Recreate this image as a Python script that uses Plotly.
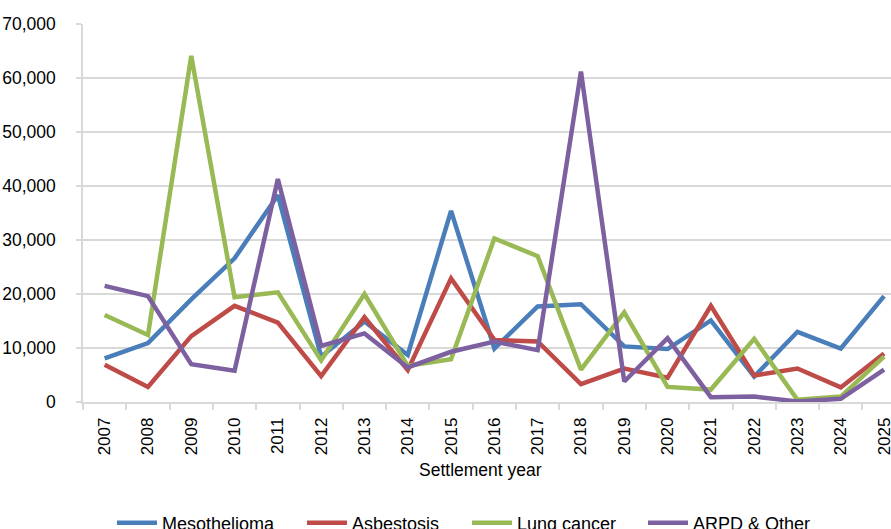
import plotly.graph_objects as go

years = [str(y) for y in range(2007, 2026)]
mesothelioma = [8100, 10900, 19000, 26600, 38300, 8400, 14900, 8700, 35400, 9900,
                17700, 18100, 10300, 9800, 15100, 4700, 13000, 9900, 19600]
asbestosis = [6900, 2800, 12200, 17800, 14700, 4800, 15700, 5900, 22900, 11500,
              11200, 3300, 6200, 4500, 17800, 4900, 6200, 2700, 9000]
lung_cancer = [16100, 12400, 64100, 19400, 20300, 7700, 20000, 6700, 7900, 30300,
               27000, 6000, 16600, 2800, 2300, 11700, 400, 1000, 8400]
arpd_other = [21500, 19600, 7000, 5800, 41300, 10400, 12700, 6400, 9300, 11200,
              9600, 61200, 3800, 11800, 900, 1000, 100, 600, 6000]

series = [
    ("Mesothelioma", mesothelioma, "#4A7EBB"),
    ("Asbestosis", asbestosis, "#BE4B48"),
    ("Lung cancer", lung_cancer, "#98B954"),
    ("ARPD & Other", arpd_other, "#7D60A0"),
]

# layout geometry (pixels); figure taller than the window so the legend,
# which is cut off at the bottom in the reference, does not push margins
W, H = 891, 560
L, T, PW, PH = 83, 24, 808, 378
R, B = W - L - PW, H - T - PH
legend_line_px = [119, 309, 474, 650]
legend_names = ["legend", "legend2", "legend3", "legend4"]

fig = go.Figure()
for (name, vals, color), lg in zip(series, legend_names):
    fig.add_trace(go.Scatter(x=years, y=vals, name=name, mode="lines",
                             line=dict(color=color, width=4.5), legend=lg))

font_family = "Liberation Sans, Arial, sans-serif"
legend_y = -(523 - (T + PH)) / PH
legend_kw = {}
for lg, px in zip(legend_names, legend_line_px):
    legend_kw[lg] = dict(orientation="h", x=(px - 7 - L) / PW, xanchor="left",
                         y=legend_y, yanchor="middle", font=dict(size=18),
                         itemwidth=40, bgcolor="rgba(0,0,0,0)")

fig.update_layout(
    width=W, height=H,
    margin=dict(l=L, r=R, t=T, b=B),
    paper_bgcolor="white", plot_bgcolor="white",
    font=dict(family=font_family, size=17.5, color="#000000"),
    showlegend=True,
    xaxis=dict(
        type="category", range=[-0.5, 18.16], tickson="boundaries",
        ticks="outside", ticklen=6, tickcolor="#D9D9D9", tickwidth=1.5,
        showgrid=False, showline=True, linecolor="#D9D9D9", linewidth=1.5,
        tickangle=-90, tickfont=dict(size=17), automargin=False,
        ticklabelstandoff=7,
    ),
    yaxis=dict(
        range=[0, 70000], dtick=10000, tickformat=",d",
        showgrid=True, gridcolor="#D9D9D9", gridwidth=1.5,
        showline=True, linecolor="#D9D9D9", linewidth=1.5,
        ticks="outside", ticklen=5, tickcolor="#D9D9D9", tickwidth=1.5,
        tickfont=dict(size=17.5), zeroline=False, automargin=False,
        ticklabelstandoff=17,
    ),
    annotations=[dict(text="Settlement year", xref="paper", yref="paper",
                      x=(480 - L) / PW, y=-(470 - (T + PH)) / PH,
                      xanchor="center", yanchor="middle", showarrow=False,
                      font=dict(size=17.5))],
    **legend_kw,
)

fig.write_html("out.html",
               config={"displayModeBar": False},
               post_script="document.body.style.margin='0';"
                           "document.body.style.overflow='hidden';")
